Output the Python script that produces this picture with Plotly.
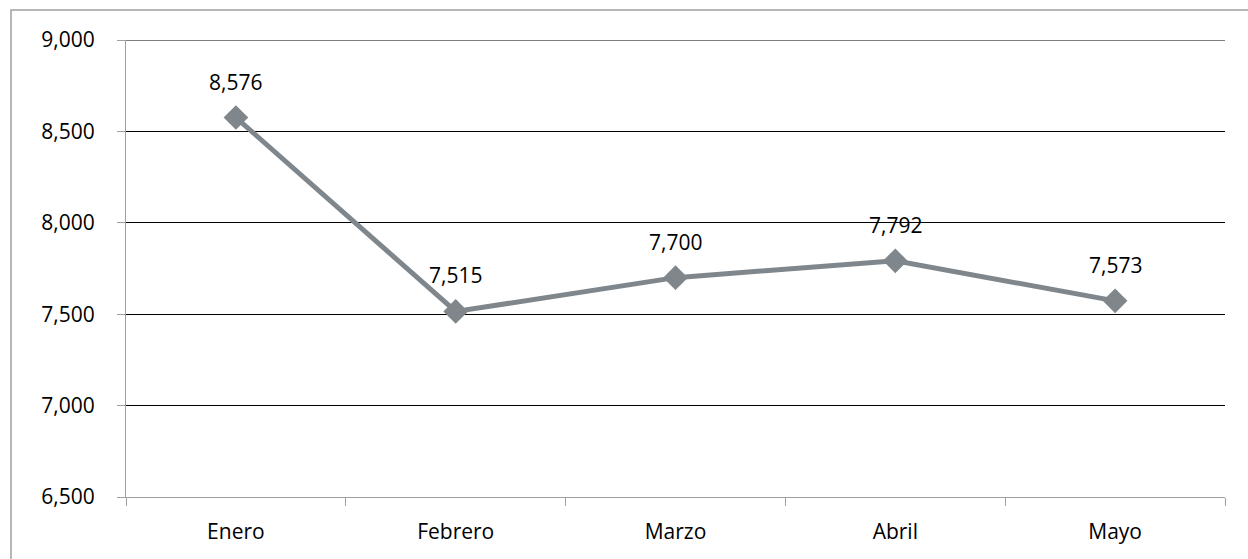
import plotly.graph_objects as go

months = ["Enero", "Febrero", "Marzo", "Abril", "Mayo"]
values = [8576, 7515, 7700, 7792, 7573]
labels = ["8,576", "7,515", "7,700", "7,792", "7,573"]
y_ticks = [6500, 7000, 7500, 8000, 8500, 9000]

line_color = "#7F878C"
font = dict(family="Open Sans, Liberation Sans, sans-serif", size=21, color="#000000")

fig = go.Figure()
fig.add_trace(go.Scatter(
    x=months, y=values, mode="lines+markers",
    line=dict(color=line_color, width=5),
    marker=dict(symbol="diamond", size=19, color=line_color),
    hoverinfo="skip", showlegend=False,
))

for m, v, t in zip(months, values, labels):
    fig.add_annotation(x=m, y=v, text=t, showarrow=False, yshift=36, font=font)

fig.update_layout(
    width=1248, height=559,
    margin=dict(l=126, r=23, t=40, b=62),
    paper_bgcolor="white", plot_bgcolor="white",
    font=font,
    xaxis=dict(
        type="category", range=[-0.5, 4.5], showgrid=False, automargin=False,
        showline=True, linecolor="#A0A0A0", linewidth=1,
        ticks="outside", tickson="boundaries", ticklen=8, tickcolor="#A0A0A0",
        ticklabelstandoff=16, zeroline=False,
    ),
    yaxis=dict(
        range=[6500, 9000], tickvals=y_ticks, tickformat=",d", automargin=False,
        showgrid=True, gridcolor="#000000", gridwidth=1,
        showline=True, linecolor="#A0A0A0", linewidth=1,
        ticks="outside", ticklen=8, tickcolor="#A0A0A0",
        ticklabelstandoff=18, zeroline=False,
    ),
    shapes=[
        dict(type="rect", xref="paper", yref="paper",
             x0=-115/1099, x1=1.2, y0=-0.5, y1=1 + 30/457,
             line=dict(color="#A0A0A0", width=1.5), fillcolor="rgba(0,0,0,0)", layer="below"),
        dict(type="line", xref="paper", yref="y", x0=0, x1=1, y0=y_ticks[-1], y1=y_ticks[-1],
             line=dict(color="#000000", width=1), layer="below"),
    ],
)

fig.write_html("out.html", config={"displayModeBar": False},
               post_script="document.body.style.margin='0';")
